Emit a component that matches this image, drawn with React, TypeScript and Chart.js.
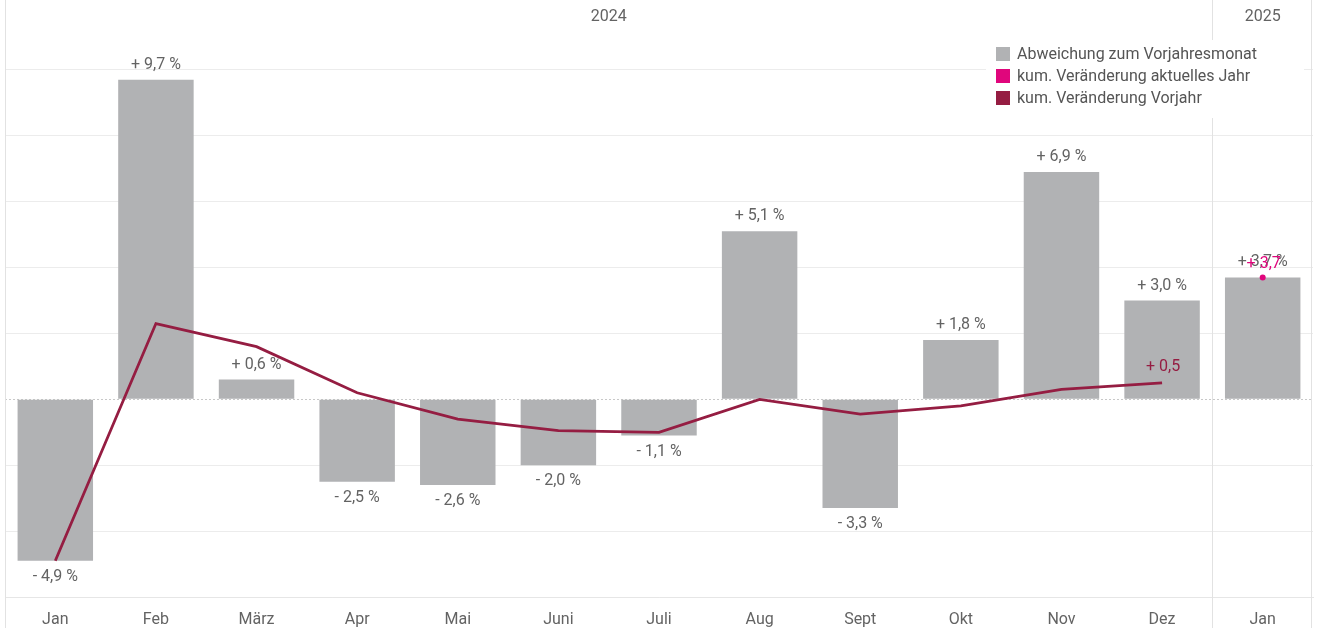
import React, { useEffect, useRef } from "react";
import { Chart, registerables } from "chart.js";

Chart.register(...registerables);

const categories = ["Jan", "Feb", "März", "Apr", "Mai", "Juni", "Juli", "Aug", "Sept", "Okt", "Nov", "Dez", "Jan"];
const monthlyChange = [-4.9, 9.7, 0.6, -2.5, -2.6, -2.0, -1.1, 5.1, -3.3, 1.8, 6.9, 3.0, 3.7];
const cumPrevYear: (number | null)[] = [-4.9, 2.3, 1.6, 0.2, -0.6, -0.95, -1.0, 0.0, -0.45, -0.2, 0.3, 0.5, null];
const cumCurrentYear: (number | null)[] = [null, null, null, null, null, null, null, null, null, null, null, null, 3.7];
const yearGroups = [
  { label: "2024", from: 0, to: 11 },
  { label: "2025", from: 12, to: 12 },
];
const legendItems = [
  { label: "Abweichung zum Vorjahresmonat", color: "#b1b2b4" },
  { label: "kum. Veränderung aktuelles Jahr", color: "#e0067c" },
  { label: "kum. Veränderung Vorjahr", color: "#951d42" },
];

const FONT = "Roboto, 'Liberation Sans', sans-serif";
const TEXT = "#636363";
const FS = 16;

const fmt = (v: number) => (v >= 0 ? "+ " : "- ") + Math.abs(v).toFixed(1).replace(".", ",");

const overlayPlugin = {
  id: "overlay",
  beforeDatasetsDraw(chart: any) {
    const { ctx, chartArea, scales } = chart;
    const y0 = scales.y.getPixelForValue(0);
    ctx.save();
    ctx.strokeStyle = "#c8c8c8";
    ctx.lineWidth = 1;
    ctx.setLineDash([2, 2]);
    ctx.beginPath();
    ctx.moveTo(chartArea.left, Math.round(y0) + 0.5);
    ctx.lineTo(chartArea.right, Math.round(y0) + 0.5);
    ctx.stroke();
    ctx.restore();
  },
  afterDraw(chart: any) {
    const { ctx, chartArea, scales } = chart;
    const x = scales.x;
    ctx.save();
    ctx.strokeStyle = "#e2e2e2";
    ctx.lineWidth = 1;
    const sep = (x.getPixelForValue(11) + x.getPixelForValue(12)) / 2;
    [chartArea.left + 0.5, Math.round(sep) + 0.5, chartArea.right - 1.5].forEach((px) => {
      ctx.beginPath();
      ctx.moveTo(px, 0);
      ctx.lineTo(px, chart.height);
      ctx.stroke();
    });

    ctx.font = `${FS}px ${FONT}`;
    ctx.fillStyle = TEXT;
    ctx.textAlign = "center";
    ctx.textBaseline = "middle";
    yearGroups.forEach((g) => {
      const cx = (x.getPixelForValue(g.from) + x.getPixelForValue(g.to)) / 2;
      ctx.fillText(g.label, cx, 17);
    });

    const barMeta = chart.getDatasetMeta(2);
    barMeta.data.forEach((el: any, i: number) => {
      const v = monthlyChange[i];
      const ly = v >= 0 ? el.y - 15 : el.y + 16;
      ctx.fillStyle = TEXT;
      ctx.fillText(fmt(v) + " %", el.x, ly);
    });

    const lineMeta = chart.getDatasetMeta(1);
    const lastIdx = cumPrevYear.reduce((acc: number, v, i) => (v !== null ? i : acc), 0);
    const lel = lineMeta.data[lastIdx];
    ctx.fillStyle = "#951d42";
    ctx.fillText(fmt(cumPrevYear[lastIdx] as number), lel.x + 1, lel.y - 16);

    const curMeta = chart.getDatasetMeta(0);
    cumCurrentYear.forEach((v, i) => {
      if (v === null) return;
      const el = curMeta.data[i];
      ctx.fillStyle = "#e0067c";
      ctx.fillText(fmt(v), el.x + 1, el.y - 13);
    });

    ctx.fillStyle = "#ffffff";
    ctx.fillRect(986, 40, 318, 78);
    ctx.textAlign = "left";
    legendItems.forEach((it, i) => {
      const cy = 54 + i * 22;
      ctx.fillStyle = it.color;
      ctx.fillRect(996, cy - 7, 14, 14);
      ctx.fillStyle = "#555555";
      ctx.fillText(it.label, 1017, cy + 1);
    });
    ctx.restore();
  },
};

export default function App() {
  const ref = useRef<HTMLCanvasElement | null>(null);
  useEffect(() => {
    if (!ref.current) return;
    const chart = new Chart(ref.current, {
      type: "bar",
      data: {
        labels: categories,
        datasets: [
          {
            type: "line",
            label: "kum. Veränderung aktuelles Jahr",
            data: cumCurrentYear,
            borderColor: "#e0067c",
            backgroundColor: "#e0067c",
            pointRadius: 3,
            pointBorderWidth: 0,
            borderWidth: 2,
            order: 0,
          } as any,
          {
            type: "line",
            label: "kum. Veränderung Vorjahr",
            data: cumPrevYear,
            borderColor: "#951d42",
            backgroundColor: "#951d42",
            pointRadius: 0,
            borderWidth: 2.8,
            order: 1,
          } as any,
          {
            type: "bar",
            label: "Abweichung zum Vorjahresmonat",
            data: monthlyChange,
            backgroundColor: "#b1b2b4",
            barPercentage: 0.75,
            categoryPercentage: 1,
            order: 2,
          },
        ],
      },
      options: {
        animation: false,
        responsive: false,
        maintainAspectRatio: false,
        layout: { padding: { left: 5, right: 2, top: 2, bottom: 0 } },
        plugins: { legend: { display: false }, tooltip: { enabled: false } },
        scales: {
          x: {
            afterFit: (s: any) => {
              s.height = 31;
            },
            grid: { display: false, drawTicks: false },
            border: { display: true, color: "#e6e6e6" },
            ticks: { color: TEXT, font: { family: FONT, size: FS }, padding: 13, autoSkip: false, maxRotation: 0 },
          },
          y: {
            min: -6,
            max: 12,
            ticks: { display: false, stepSize: 2 },
            border: { display: false },
            grid: {
              drawTicks: false,
              color: (c: any) => {
                const v = c.tick && c.tick.value;
                if (v === 0 || v === 12) return "rgba(0,0,0,0)";
                return "#ececec";
              },
            },
          },
        },
      },
      plugins: [overlayPlugin],
    });
    return () => chart.destroy();
  }, []);
  return (
    <div style={{ position: "absolute", left: 0, top: 0, width: 1317, height: 628, background: "#fff" }}>
      <canvas ref={ref} width={1317} height={628} style={{ display: "block", width: 1317, height: 628 }} />
    </div>
  );
}
